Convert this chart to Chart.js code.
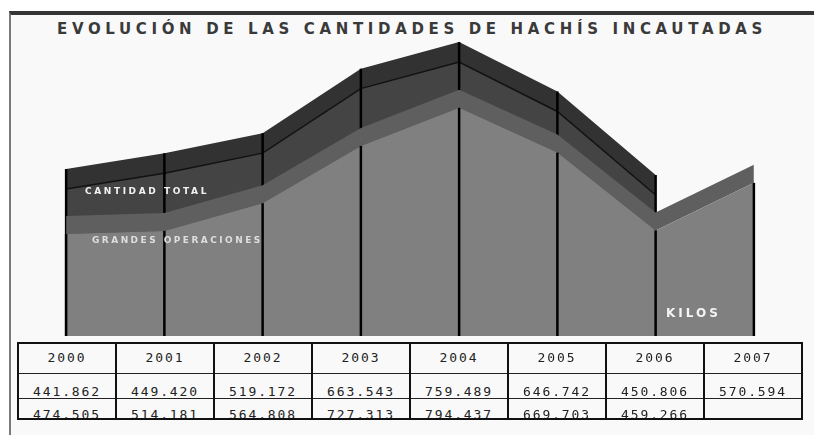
<!DOCTYPE html>
<html>
<head>
<meta charset="utf-8">
<script src="https://cdn.jsdelivr.net/npm/chart.js@4.4.1/dist/chart.umd.min.js"></script>
<style>
html, body { margin: 0; padding: 0; background: #fff; }
body { width: 814px; height: 435px; position: relative; overflow: hidden; font-family: "DejaVu Sans", sans-serif; }
#frame { position: absolute; left: 9px; top: 11px; right: 0; bottom: 0; background: #f9f9f9; border-top: 4px solid #353535; border-left: 2px solid #7a7a7a; }
#title { position: absolute; left: 0; width: 824px; top: 20px; text-align: center; font-weight: bold; font-size: 15px; letter-spacing: 4.65px; color: #3a3a3a; white-space: nowrap; }
#plot { position: absolute; left: 17px; top: 30px; width: 786px; height: 306px; }
.lbl { position: absolute; font-weight: bold; white-space: nowrap; }
#cant { left: 85px; top: 186px; font-size: 9px; letter-spacing: 2.6px; color: #f2f2f2; }
#gran { left: 92px; top: 235px; font-size: 9px; letter-spacing: 2.45px; color: #dedede; }
#kilos { left: 666px; top: 306px; font-size: 12px; letter-spacing: 3px; color: #f4f4f4; }
table { position: absolute; left: 17px; top: 342px; width: 786px; border-collapse: collapse; table-layout: fixed;
        font-family: "DejaVu Sans Mono", monospace; font-size: 13px; color: #222; border: 2.5px solid #111; }
td { border-left: 2px solid #111; border-right: 2px solid #111; border-top: 1.5px solid #222; border-bottom: 1.5px solid #222;
     text-align: center; padding: 0; }
td div { overflow: hidden; letter-spacing: 1.9px; }
tr.h td div { height: 29px; line-height: 27px; }
tr.r1 td div { height: 24px; line-height: 36px; }
tr.r2 td div { height: 19px; line-height: 31px; }
</style>
</head>
<body>
<div id="frame"></div>
<div id="title">EVOLUCIÓN DE LAS CANTIDADES DE HACHÍS INCAUTADAS</div>
<div id="plot"><canvas id="chart"></canvas></div>
<div class="lbl" id="cant">CANTIDAD TOTAL</div>
<div class="lbl" id="gran">GRANDES OPERACIONES</div>
<div class="lbl" id="kilos">KILOS</div>
<table id="tabla"></table>
<script>
// años y kilos incautados
var years = ['2000', '2001', '2002', '2003', '2004', '2005', '2006', '2007'];
var grandesOperaciones = [441862, 449420, 519172, 663543, 759489, 646742, 450806, 570594];
var cantidadTotal = [474505, 514181, 564808, 727313, 794437, 669703, 459266, null];

var Y_MIN = 104200, Y_MAX = 875000, PLOT_H = 306;
var perPx = (Y_MAX - Y_MIN) / PLOT_H;

// 3d ribbon depths (pixels)
var totalTop = 20 * perPx;
var grandesShift = 32 * perPx;
var grandesTop = 18 * perPx;

function fmt(v) {
    if (v === null) return '';
    return String(v).replace(/\B(?=(\d{3})+(?!\d))/g, '.');
}

// table below the chart
var html = '<tr class="h">' + years.map(function(y) { return '<td><div>' + y + '</div></td>'; }).join('') + '</tr>';
html += '<tr class="r1">' + grandesOperaciones.map(function(v) { return '<td><div>' + fmt(v) + '</div></td>'; }).join('') + '</tr>';
html += '<tr class="r2">' + cantidadTotal.map(function(v) { return '<td><div>' + fmt(v) + '</div></td>'; }).join('') + '</tr>';
document.getElementById('tabla').innerHTML = html;

function shift(arr, d) {
    return arr.map(function(v) { return v === null ? null : v + d; });
}

// black posts at every year, drawn over the front faces
var postsPlugin = {
    id: 'posts',
    afterDatasetDraw: function(chart, args) {
        var topIdx;
        if (args.index === 1) topIdx = 0;
        else if (args.index === 3) topIdx = 3;
        else return;
        var ctx = chart.ctx;
        var top = chart.getDatasetMeta(topIdx).data;
        var src = chart.data.datasets[args.index].data;
        var bottom = chart.chartArea.bottom;
        ctx.save();
        ctx.strokeStyle = '#000';
        ctx.lineWidth = 2.5;
        for (var i = 0; i < src.length; i++) {
            if (src[i] === null) continue;
            ctx.beginPath();
            ctx.moveTo(top[i].x, top[i].y);
            ctx.lineTo(top[i].x, bottom);
            ctx.stroke();
        }
        ctx.restore();
    }
};

var ctx = document.getElementById('chart').getContext('2d');
var chart = new Chart(ctx, {
    type: 'line',
    data: {
        labels: years,
        datasets: [{
            label: 'Cantidad total (cara superior)',
            data: shift(cantidadTotal, totalTop),
            fill: '+1',
            backgroundColor: '#323232',
            borderWidth: 0,
            order: 4
        }, {
            label: 'Cantidad total',
            data: cantidadTotal,
            fill: 'start',
            backgroundColor: '#444444',
            borderColor: '#111',
            borderWidth: 1.5,
            order: 3
        }, {
            label: 'Grandes operaciones (cara superior)',
            data: shift(grandesOperaciones, -grandesShift + grandesTop),
            fill: '+1',
            backgroundColor: '#5f5f5f',
            borderWidth: 0,
            order: 2
        }, {
            label: 'Grandes operaciones',
            data: shift(grandesOperaciones, -grandesShift),
            fill: 'start',
            backgroundColor: '#808080',
            borderWidth: 0,
            order: 1
        }]
    },
    options: {
        responsive: true,
        maintainAspectRatio: false,
        animation: false,
        events: [],
        elements: { point: { radius: 0 }, line: { tension: 0 } },
        layout: { padding: 0 },
        scales: {
            x: { type: 'category', offset: true, display: false },
            y: { min: Y_MIN, max: Y_MAX, display: false }
        },
        plugins: {
            legend: { display: false },
            tooltip: { enabled: false }
        }
    },
    plugins: [postsPlugin]
});
</script>
</body>
</html>
